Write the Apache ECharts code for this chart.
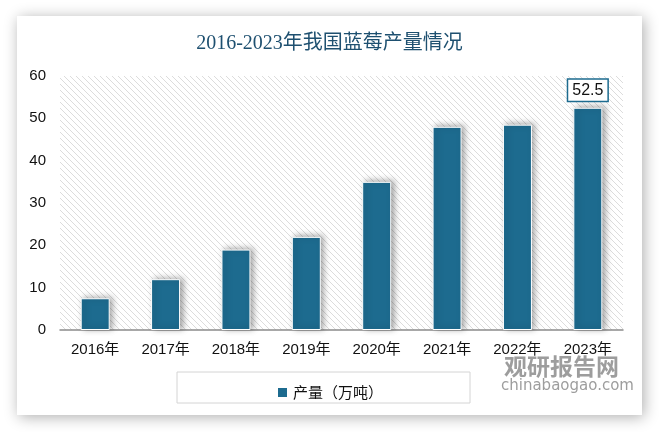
<!DOCTYPE html>
<html><head><meta charset="utf-8">
<script src="https://cdn.jsdelivr.net/npm/echarts@6/dist/echarts.min.js"></script>
<style>html,body{margin:0;padding:0;background:#fff}#c{width:659px;height:432px}</style>
</head><body><div id="c"></div>
<script>
var categories = ['2016年','2017年','2018年','2019年','2020年','2021年','2022年','2023年'];
var production = [7.5, 12, 19, 22, 35, 48, 48.5, 52.5];
var seriesName = '产量（万吨）';
var titleText = '2016-2023年我国蓝莓产量情况';

var tile = document.createElement('canvas');
tile.width = 6; tile.height = 6;
var g = tile.getContext('2d');
g.fillStyle = '#ffffff'; g.fillRect(0,0,6,6);
g.strokeStyle = '#dcdcdc'; g.lineWidth = 1;
g.beginPath(); g.moveTo(-1,-1); g.lineTo(7,7); g.stroke();
g.beginPath(); g.moveTo(-1,5); g.lineTo(1,7); g.stroke();
g.beginPath(); g.moveTo(5,-1); g.lineTo(7,1); g.stroke();

var chart = echarts.init(document.getElementById('c'));
var barColor = '#1d6b8f';
chart.setOption({
  animation: false,
  graphic: [
    {type:'rect', z:-10, shape:{x:17,y:16,width:625,height:399}, style:{fill:'#fff', shadowBlur:14, shadowColor:'rgba(0,0,0,0.32)', shadowOffsetX:2, shadowOffsetY:2}},
    {type:'rect', z:1, shape:{x:177,y:372,width:293,height:31}, style:{fill:'none', stroke:'#d4d4d4', lineWidth:1}},
    {type:'text', z:1, left:504, top:355, style:{text:'观研报告网', fill:'rgba(140,140,140,0.85)', font:'bold 23px "Noto Sans CJK SC"'}},
    {type:'text', z:1, left:501, top:379, style:{text:'chinabaogao.com', fill:'rgba(140,140,140,0.85)', font:'15px "DejaVu Sans"'}}
  ],
  title: {text: titleText, left: 'center', top: 29, textStyle:{fontFamily:'"Liberation Serif","Noto Sans CJK SC"', fontSize:20, fontWeight:'normal', color:'#1e5070'}},
  legend: {data:[seriesName], left:'center', top:380, itemWidth:11, itemHeight:11, icon:'rect', itemGap:6, textStyle:{fontSize:15, color:'#111', fontFamily:'"Noto Sans CJK SC"'}},
  grid: {left:60, right:36, top:76, bottom:102, show:true, borderWidth:0, backgroundColor:{image: tile, repeat:'repeat'}},
  xAxis: {type:'category', data:categories, axisLine:{lineStyle:{color:'#8c8c8c', width:1.5}}, axisTick:{show:false},
    axisLabel:{fontSize:15, color:'#111', margin:12, fontFamily:'"Liberation Sans","Noto Sans CJK SC"'}},
  yAxis: {type:'value', min:0, max:60, interval:10, splitLine:{show:false}, axisLine:{show:false}, axisTick:{show:false},
    axisLabel:{fontSize:15, color:'#111', margin:14, fontFamily:'"Liberation Sans"'}},
  series: [{
    name: seriesName, type:'bar', barWidth:29, data: production.map(function(v,i){
      var d = {value:v};
      if (i === production.length-1) d.label = {show:true};
      return d;
    }),
    itemStyle:{color:barColor, borderColor:'#fff', borderWidth:1, shadowColor:'rgba(0,0,0,0.35)', shadowBlur:6, shadowOffsetX:3, shadowOffsetY:-1},
    label:{show:false, position:'top', distance:7, fontSize:16, color:'#111', fontFamily:'"Liberation Sans"', backgroundColor:'#fff', borderColor:barColor, borderWidth:1.5, padding:[3,4,2,4]}
  }]
});
</script></body></html>
